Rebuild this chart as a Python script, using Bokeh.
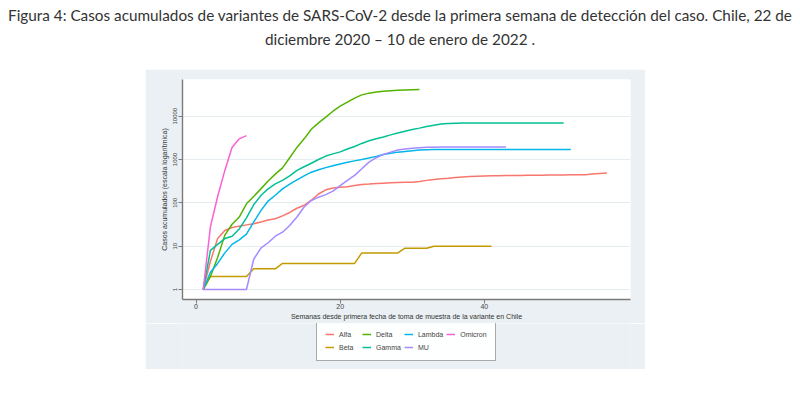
from bokeh.plotting import figure
from bokeh.models import (Range1d, FixedTicker, Legend, LegendItem, Div, Spacer,
                          BasicTickFormatter)
from bokeh.layouts import column, row
from bokeh.embed import file_html
from bokeh.resources import INLINE

# ---------------- data (weekly cumulative cases) ----------------
alfa = [1, 4.5, 15, 23, 27, 29, 31, 33, 36, 40,
        43, 50, 60, 75, 88, 115, 160, 200, 220, 228,
        235, 250, 265, 272, 280, 285, 290, 295, 298, 300,
        310, 330, 345, 360, 370, 385, 395, 405, 410, 415,
        420, 422, 425, 428, 430, 432, 434, 436, 438, 440,
        441, 442, 443, 445, 460, 475, 490]
beta = [1, 2, 2, 2, 2, 2, 2, 3, 3, 3,
        3, 4, 4, 4, 4, 4, 4, 4, 4, 4,
        4, 4, 7, 7, 7, 7, 7, 7, 9, 9,
        9, 9, 10, 10, 10, 10, 10, 10, 10, 10,
        10]
delta = [1, 2, 5.5, 18, 32, 47, 95, 140, 210, 320,
         460, 640, 1100, 1900, 3000, 5000, 7000, 9500, 13000, 17000,
         21000, 26000, 31000, 34000, 36000, 37500, 38500, 39500, 40000, 40500,
         41000]
gamma = [1, 8, 11, 15, 17, 25, 45, 90, 148, 210,
         275, 330, 420, 560, 680, 820, 1000, 1200, 1350, 1500,
         1750, 2000, 2350, 2700, 3000, 3300, 3700, 4100, 4500, 4900,
         5300, 5800, 6200, 6600, 6800, 6900, 7000, 7000, 7000, 7000,
         7000, 7000, 7000, 7000, 7000, 7000, 7000, 7000, 7000, 7000,
         7000]
lambda_ = [1, 2.5, 4, 7, 11, 14, 19, 36, 66, 110,
           150, 210, 270, 340, 420, 510, 580, 650, 720, 790,
           860, 930, 1000, 1080, 1180, 1300, 1400, 1480, 1540, 1600,
           1650, 1680, 1700, 1700, 1700, 1700, 1700, 1700, 1700, 1700,
           1700, 1700, 1700, 1700, 1700, 1700, 1700, 1700, 1700, 1700,
           1700, 1700]
mu = [1, 1, 1, 1, 1, 1, 1, 5, 9, 12,
      17, 21, 30, 47, 80, 113, 135, 155, 186, 250,
      330, 430, 610, 870, 1100, 1310, 1480, 1660, 1750, 1820,
      1870, 1910, 1930, 1950, 1950, 1950, 1950, 1950, 1950, 1950,
      1950, 1950, 1950]
omicron = [1, 28, 140, 560, 1900, 3000, 3550]

series_names = ["Alfa", "Beta", "Delta", "Gamma", "Lambda", "MU", "Omicron"]
series_values = [alfa, beta, delta, gamma, lambda_, mu, omicron]
series_colors = ["#F8766D", "#C49A00", "#53B400", "#00C094", "#00B6EB", "#A58AFF", "#FB61D7"]

y_ticks = [1, 10, 100, 1000, 10000]
x_ticks = [0, 20, 40]

title_line1 = ("Figura 4: Casos acumulados de variantes de SARS-CoV-2 desde la primera "
               "semana de detección del caso. Chile, 22 de")
title_line2 = "diciembre 2020 – 10 de enero de 2022 ."
x_label = "Semanas desde primera fecha de toma de muestra de la variante en Chile"
y_label = "Casos acumulados (escala logarítmica)"

BG = "#eaf0f3"

# ---------------- main figure ----------------
p = figure(width=500, height=254, output_backend="svg", toolbar_location=None,
           y_axis_type="log",
           x_range=Range1d(-1.875, 60.28), y_range=Range1d(0.588, 70200),
           min_border_left=37, min_border_right=15, min_border_top=10,
           min_border_bottom=24)
p.background_fill_color = "white"
p.border_fill_color = BG
p.outline_line_color = None

for name, vals, col in zip(series_names, series_values, series_colors):
    weeks = list(range(1, len(vals) + 1))
    p.line(weeks, vals, line_color=col, line_width=1.5)

for ax in (p.xaxis[0], p.yaxis[0]):
    ax.axis_line_color = "#7a7a7a"
    ax.axis_line_width = 1.4
    ax.major_tick_line_color = "#7a7a7a"
    ax.major_tick_in = 0
    ax.major_tick_out = 4
    ax.minor_tick_line_color = None
    ax.major_label_text_font = "Liberation Sans"
    ax.major_label_text_color = "#444444"
    ax.axis_label_text_font = "Liberation Sans"
    ax.axis_label_text_font_style = "normal"
    ax.axis_label_text_color = "#333333"
    ax.axis_label_text_font_size = "7px"

p.xaxis.ticker = FixedTicker(ticks=x_ticks)
p.xaxis.major_label_text_font_size = "7px"
p.xaxis.major_label_standoff = 0
p.xaxis.axis_label = x_label
p.xaxis.axis_label_standoff = 1

p.yaxis.ticker = FixedTicker(ticks=y_ticks)
p.yaxis.formatter = BasicTickFormatter()
p.yaxis.major_label_text_font_size = "6px"
p.yaxis.major_label_orientation = "vertical"
p.yaxis.major_label_standoff = 1
p.yaxis.axis_label = y_label
p.yaxis.axis_label_standoff = 3

p.xgrid.grid_line_color = None
p.ygrid.grid_line_color = "#e6edf0"
p.ygrid.grid_line_width = 1

# ---------------- legend figure (series kept out of its view) ----------------
lg = figure(width=500, height=46, output_backend="svg", toolbar_location=None,
            x_axis_location=None, y_axis_location=None,
            x_range=Range1d(100, 101), y_range=Range1d(0, 1),
            min_border=0, min_border_left=0, min_border_right=0,
            min_border_top=0, min_border_bottom=0)
lg.grid.visible = False
lg.outline_line_color = None
lg.background_fill_color = BG
lg.border_fill_color = BG

legend_renderers = {}
for name, vals, col in zip(series_names, series_values, series_colors):
    weeks = list(range(1, len(vals) + 1))
    legend_renderers[name] = lg.line(weeks, vals, line_color=col, line_width=1.5)

legend_order = ["Alfa", "Delta", "Lambda", "Omicron", "Beta", "Gamma", "MU"]
items = [LegendItem(label=n, renderers=[legend_renderers[n]]) for n in legend_order]
legend = Legend(items=items, orientation="horizontal", ncols=4,
                location=(134, 8))
legend.label_text_font = "Liberation Sans"
legend.label_text_font_size = "7px"
legend.label_text_color = "#444444"
legend.label_height = 10
legend.glyph_height = 10
legend.glyph_width = 9
legend.label_standoff = 5
legend.padding = 8
legend.spacing = 3
legend.margin = 0
legend.border_line_color = "#555555"
legend.border_line_width = 1
legend.background_fill_color = "white"
lg.add_layout(legend, "center")

title = Div(text=(
    '<div style="font-family: Lato, sans-serif; font-size: 15.3px; color: #333333; '
    'text-align: center; line-height: 24px; padding-top: 3px; white-space: nowrap; '
    'width: 800px;">'
    + title_line1 + "<br>" + title_line2 + "</div>"),
    width=800, height=69, margin=0)

chart = column(p, lg, margin=0)
layout = column(title, row(Spacer(width=145, height=300, margin=0), chart, margin=0), margin=0)

with open("out.html", "w") as f:
    f.write(file_html(layout, INLINE))
